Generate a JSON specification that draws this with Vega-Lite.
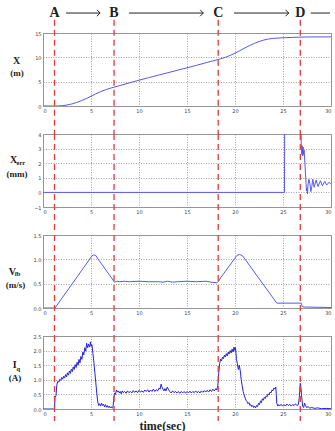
{
"$schema": "https://vega.github.io/schema/vega-lite/v6.json",
"padding": {"left": 5, "top": 5, "right": 0, "bottom": 0},
"spacing": 28,
"bounds": "flush",
"datasets": {
"events": [{"t": 1.2, "label": "A"}, {"t": 7.4, "label": "B"}, {"t": 18.25, "label": "C"}, {"t": 26.8, "label": "D"}],
"arrows": [{"x1": 2.4, "x2": 5.95, "head": true}, {"x1": 8.95, "x2": 16.7, "head": true}, {"x1": 19.9, "x2": 25.6, "head": true}, {"x1": 27.9, "x2": 29.9, "head": false}],
"pos": [{"t":0,"v":0},{"t":1.2,"v":0},{"t":1.6,"v":0.01},{"t":2,"v":0.06},{"t":2.5,"v":0.2},{"t":3,"v":0.42},{"t":3.5,"v":0.72},{"t":4,"v":1.1},{"t":4.5,"v":1.52},{"t":5,"v":2.0},{"t":5.5,"v":2.5},{"t":6,"v":2.95},{"t":6.5,"v":3.33},{"t":7,"v":3.65},{"t":7.5,"v":3.92},{"t":8,"v":4.2},{"t":9,"v":4.75},{"t":10,"v":5.3},{"t":11,"v":5.82},{"t":12,"v":6.33},{"t":13,"v":6.84},{"t":14,"v":7.35},{"t":15,"v":7.85},{"t":16,"v":8.37},{"t":17,"v":8.9},{"t":18,"v":9.42},{"t":18.5,"v":9.7},{"t":19,"v":10.0},{"t":19.5,"v":10.4},{"t":20,"v":10.85},{"t":20.5,"v":11.37},{"t":21,"v":11.9},{"t":21.5,"v":12.4},{"t":22,"v":12.85},{"t":22.5,"v":13.25},{"t":23,"v":13.55},{"t":23.5,"v":13.77},{"t":24,"v":13.9},{"t":24.5,"v":13.97},{"t":25,"v":14.02},{"t":26,"v":14.1},{"t":26.8,"v":14.15},{"t":27.5,"v":14.18},{"t":30,"v":14.2}],
"xerr": [{"t":0,"v":0},{"t":25.15,"v":0},{"t":25.2,"v":8},{"t":26.85,"v":8},{"t":26.9,"v":3.3},{"t":26.95,"v":2.6},{"t":27.0,"v":3.2},{"t":27.05,"v":2.5},{"t":27.1,"v":3.1},{"t":27.15,"v":2.6},{"t":27.2,"v":2.9},{"t":27.3,"v":1.8},{"t":27.4,"v":0.6},{"t":27.45,"v":0.1},{"t":27.5,"v":0.3},{"t":27.55,"v":-0.1},{"t":27.6,"v":0.5},{"t":27.7,"v":0.9},{"t":27.8,"v":0.6},{"t":27.9,"v":0.05},{"t":28.0,"v":0.4},{"t":28.1,"v":0.9},{"t":28.25,"v":0.35},{"t":28.45,"v":0.85},{"t":28.65,"v":0.4},{"t":28.9,"v":0.8},{"t":29.1,"v":0.45},{"t":29.35,"v":0.75},{"t":29.55,"v":0.5},{"t":29.8,"v":0.7},{"t":30,"v":0.55}],
"vfb": [{"t":0,"v":0},{"t":1.25,"v":0},{"t":5.1,"v":1.07},{"t":5.25,"v":1.09},{"t":5.5,"v":1.08},{"t":5.65,"v":1.03},{"t":7.45,"v":0.53},{"t":7.7,"v":0.55},{"t":8,"v":0.54},{"t":8.5,"v":0.55},{"t":9,"v":0.54},{"t":10,"v":0.55},{"t":11,"v":0.54},{"t":12,"v":0.54},{"t":12.5,"v":0.53},{"t":13,"v":0.55},{"t":13.5,"v":0.53},{"t":14,"v":0.54},{"t":15,"v":0.55},{"t":16,"v":0.54},{"t":17,"v":0.55},{"t":17.5,"v":0.53},{"t":18.1,"v":0.52},{"t":18.3,"v":0.55},{"t":18.5,"v":0.62},{"t":20.2,"v":1.08},{"t":20.5,"v":1.1},{"t":20.8,"v":1.07},{"t":24.35,"v":0.1},{"t":26.9,"v":0.1},{"t":27.0,"v":0.03},{"t":27.2,"v":0.02},{"t":30,"v":0.01}],
"iq": [{"t":0,"v":0},{"t":1.1,"v":0},{"t":1.2,"v":0.02},{"t":1.25,"v":0.4},{"t":1.35,"v":0.45},{"t":1.45,"v":0.85},{"t":1.55,"v":0.95},{"t":1.65,"v":0.92},{"t":1.75,"v":1.02},{"t":1.85,"v":0.98},{"t":1.95,"v":1.08},{"t":2.05,"v":1.02},{"t":2.15,"v":1.12},{"t":2.25,"v":1.06},{"t":2.35,"v":1.18},{"t":2.45,"v":1.1},{"t":2.55,"v":1.24},{"t":2.65,"v":1.16},{"t":2.75,"v":1.3},{"t":2.85,"v":1.22},{"t":2.95,"v":1.36},{"t":3.05,"v":1.28},{"t":3.15,"v":1.44},{"t":3.25,"v":1.35},{"t":3.35,"v":1.52},{"t":3.45,"v":1.42},{"t":3.55,"v":1.6},{"t":3.65,"v":1.5},{"t":3.75,"v":1.7},{"t":3.85,"v":1.58},{"t":3.95,"v":1.8},{"t":4.05,"v":1.7},{"t":4.15,"v":1.95},{"t":4.25,"v":1.85},{"t":4.35,"v":2.1},{"t":4.45,"v":1.98},{"t":4.55,"v":2.25},{"t":4.65,"v":2.1},{"t":4.75,"v":2.22},{"t":4.85,"v":2.12},{"t":4.95,"v":2.3},{"t":5.0,"v":2.15},{"t":5.1,"v":2.2},{"t":5.2,"v":1.9},{"t":5.3,"v":1.6},{"t":5.4,"v":1.25},{"t":5.5,"v":0.9},{"t":5.6,"v":0.55},{"t":5.7,"v":0.25},{"t":5.8,"v":0.12},{"t":5.9,"v":0.18},{"t":6.0,"v":0.1},{"t":6.1,"v":0.2},{"t":6.2,"v":0.12},{"t":6.3,"v":0.16},{"t":6.4,"v":0.08},{"t":6.5,"v":0.15},{"t":6.6,"v":0.06},{"t":6.7,"v":0.12},{"t":6.8,"v":0.05},{"t":6.9,"v":0.1},{"t":7.0,"v":0.04},{"t":7.1,"v":0.08},{"t":7.2,"v":0.03},{"t":7.3,"v":0.06},{"t":7.35,"v":0.3},{"t":7.45,"v":0.55},{"t":7.55,"v":0.5},{"t":7.65,"v":0.65},{"t":7.75,"v":0.58},{"t":7.85,"v":0.62},{"t":7.95,"v":0.55},{"t":8.05,"v":0.6},{"t":8.15,"v":0.52},{"t":8.25,"v":0.62},{"t":8.35,"v":0.56},{"t":8.5,"v":0.6},{"t":8.65,"v":0.54},{"t":8.8,"v":0.62},{"t":8.95,"v":0.56},{"t":9.1,"v":0.6},{"t":9.25,"v":0.55},{"t":9.4,"v":0.63},{"t":9.55,"v":0.57},{"t":9.7,"v":0.62},{"t":9.85,"v":0.56},{"t":10.0,"v":0.64},{"t":10.15,"v":0.58},{"t":10.3,"v":0.62},{"t":10.45,"v":0.57},{"t":10.6,"v":0.65},{"t":10.75,"v":0.6},{"t":10.9,"v":0.66},{"t":11.05,"v":0.58},{"t":11.2,"v":0.65},{"t":11.35,"v":0.6},{"t":11.5,"v":0.68},{"t":11.65,"v":0.6},{"t":11.8,"v":0.66},{"t":11.95,"v":0.62},{"t":12.1,"v":0.72},{"t":12.2,"v":0.68},{"t":12.3,"v":0.85},{"t":12.4,"v":0.75},{"t":12.5,"v":0.68},{"t":12.6,"v":0.62},{"t":12.7,"v":0.7},{"t":12.8,"v":0.62},{"t":12.95,"v":0.75},{"t":13.05,"v":0.68},{"t":13.2,"v":0.6},{"t":13.35,"v":0.55},{"t":13.5,"v":0.62},{"t":13.65,"v":0.56},{"t":13.8,"v":0.6},{"t":13.95,"v":0.55},{"t":14.1,"v":0.6},{"t":14.25,"v":0.54},{"t":14.4,"v":0.6},{"t":14.55,"v":0.55},{"t":14.7,"v":0.6},{"t":14.85,"v":0.54},{"t":15.0,"v":0.6},{"t":15.15,"v":0.55},{"t":15.3,"v":0.61},{"t":15.45,"v":0.55},{"t":15.6,"v":0.6},{"t":15.75,"v":0.56},{"t":15.9,"v":0.62},{"t":16.05,"v":0.56},{"t":16.2,"v":0.6},{"t":16.35,"v":0.55},{"t":16.5,"v":0.62},{"t":16.65,"v":0.57},{"t":16.8,"v":0.63},{"t":16.95,"v":0.58},{"t":17.1,"v":0.64},{"t":17.25,"v":0.58},{"t":17.4,"v":0.66},{"t":17.55,"v":0.6},{"t":17.7,"v":0.68},{"t":17.85,"v":0.62},{"t":18.0,"v":0.7},{"t":18.1,"v":0.65},{"t":18.2,"v":0.78},{"t":18.25,"v":0.95},{"t":18.3,"v":1.2},{"t":18.4,"v":1.55},{"t":18.5,"v":1.7},{"t":18.6,"v":1.65},{"t":18.7,"v":1.78},{"t":18.8,"v":1.72},{"t":18.9,"v":1.85},{"t":19.0,"v":1.78},{"t":19.1,"v":1.9},{"t":19.2,"v":1.82},{"t":19.3,"v":1.95},{"t":19.4,"v":1.88},{"t":19.5,"v":2.0},{"t":19.6,"v":1.92},{"t":19.7,"v":2.05},{"t":19.8,"v":1.95},{"t":19.9,"v":2.12},{"t":20.0,"v":2.0},{"t":20.05,"v":2.1},{"t":20.15,"v":1.7},{"t":20.25,"v":1.55},{"t":20.35,"v":1.35},{"t":20.45,"v":1.5},{"t":20.55,"v":1.3},{"t":20.65,"v":1.0},{"t":20.75,"v":0.8},{"t":20.85,"v":0.6},{"t":20.95,"v":0.48},{"t":21.05,"v":0.38},{"t":21.15,"v":0.3},{"t":21.25,"v":0.25},{"t":21.35,"v":0.18},{"t":21.45,"v":0.22},{"t":21.55,"v":0.12},{"t":21.65,"v":0.15},{"t":21.75,"v":0.08},{"t":21.85,"v":0.12},{"t":21.95,"v":0.05},{"t":22.05,"v":0.1},{"t":22.15,"v":0.04},{"t":22.25,"v":0.12},{"t":22.35,"v":0.08},{"t":22.45,"v":0.2},{"t":22.55,"v":0.15},{"t":22.65,"v":0.28},{"t":22.75,"v":0.22},{"t":22.85,"v":0.35},{"t":22.95,"v":0.3},{"t":23.05,"v":0.4},{"t":23.15,"v":0.36},{"t":23.25,"v":0.45},{"t":23.35,"v":0.42},{"t":23.45,"v":0.52},{"t":23.55,"v":0.48},{"t":23.65,"v":0.58},{"t":23.75,"v":0.55},{"t":23.85,"v":0.65},{"t":23.95,"v":0.62},{"t":24.05,"v":0.72},{"t":24.15,"v":0.68},{"t":24.25,"v":0.75},{"t":24.3,"v":0.5},{"t":24.35,"v":0.2},{"t":24.45,"v":0.1},{"t":24.55,"v":0.15},{"t":24.65,"v":0.1},{"t":24.8,"v":0.16},{"t":24.95,"v":0.1},{"t":25.1,"v":0.15},{"t":25.25,"v":0.1},{"t":25.4,"v":0.17},{"t":25.55,"v":0.12},{"t":25.7,"v":0.16},{"t":25.85,"v":0.1},{"t":26.0,"v":0.15},{"t":26.15,"v":0.12},{"t":26.3,"v":0.18},{"t":26.45,"v":0.12},{"t":26.6,"v":0.15},{"t":26.7,"v":0.4},{"t":26.8,"v":0.88},{"t":26.85,"v":0.8},{"t":26.95,"v":0.4},{"t":27.05,"v":0.1},{"t":27.15,"v":0.05},{"t":27.25,"v":0.2},{"t":27.35,"v":0.12},{"t":27.45,"v":0.05},{"t":27.6,"v":0.08},{"t":27.8,"v":0.03},{"t":28.0,"v":0.05},{"t":28.3,"v":0.02},{"t":28.6,"v":0.04},{"t":29.0,"v":0.01},{"t":29.5,"v":0.02},{"t":30,"v":0.01}]
},
"vconcat": [
{
"width": 288, "height": 73,
"layer": [
{"data": {"name": "pos"}, "mark": {"type": "line", "color": "#5858ee", "strokeWidth": 1, "clip": true},
 "encoding": {"x": {"field": "t", "type": "quantitative", "scale": {"domain": [0, 30], "nice": false, "zero": false}, "axis": {"values": [0,5,10,15,20,25,30], "title": null, "grid": true}},
  "y": {"field": "v", "type": "quantitative", "scale": {"domain": [0, 15], "nice": false, "zero": false}, "axis": {"values": [0,5,10,15], "title": null, "grid": true}}}},
{"data": {"name": "events"}, "mark": {"type": "rule", "color": "#e23a3a", "strokeDash": [6, 4], "strokeWidth": 1.3},
 "encoding": {"x": {"field": "t", "type": "quantitative", "scale": {"domain": [0, 30], "nice": false, "zero": false}}, "y": {"datum": 17.7, "type": "quantitative", "scale": {"domain": [0, 15], "nice": false, "zero": false}, "axis": {"values": [0,5,10,15], "title": null, "grid": true}}, "y2": {"datum": -5.75}}},
{"data": {"name": "events"}, "mark": {"type": "text", "font": "Liberation Serif", "fontWeight": "bold", "fontSize": 14, "baseline": "middle"},
 "encoding": {"x": {"field": "t", "type": "quantitative", "scale": {"domain": [0, 30], "nice": false, "zero": false}}, "y": {"datum": 19.1, "type": "quantitative", "scale": {"domain": [0, 15], "nice": false, "zero": false}, "axis": {"values": [0,5,10,15], "title": null, "grid": true}}, "text": {"field": "label"}}},
{"data": {"name": "arrows"}, "mark": {"type": "rule", "color": "#222", "strokeWidth": 1},
 "encoding": {"x": {"field": "x1", "type": "quantitative", "scale": {"domain": [0, 30], "nice": false, "zero": false}}, "x2": {"field": "x2"}, "y": {"datum": 19.1, "type": "quantitative", "scale": {"domain": [0, 15], "nice": false, "zero": false}, "axis": {"values": [0,5,10,15], "title": null, "grid": true}}}},
{"data": {"name": "arrows"}, "transform": [{"filter": "datum.head"}], "mark": {"type": "point", "shape": "M -1 -1 L 0 0 L -1 1", "filled": false, "stroke": "#222", "strokeWidth": 1, "size": 40, "opacity": 1},
 "encoding": {"x": {"field": "x2", "type": "quantitative", "scale": {"domain": [0, 30], "nice": false, "zero": false}}, "y": {"datum": 19.1, "type": "quantitative", "scale": {"domain": [0, 15], "nice": false, "zero": false}, "axis": {"values": [0,5,10,15], "title": null, "grid": true}}}},
{"data": {"values": [{"s": "X"}]}, "mark": {"type": "text", "font": "Liberation Serif", "fontWeight": "bold", "fontSize": 10, "baseline": "middle"},
 "encoding": {"x": {"datum": -2.76, "type": "quantitative", "scale": {"domain": [0, 30], "nice": false, "zero": false}, "axis": {"values": [0,5,10,15,20,25,30], "title": null, "grid": true}}, "y": {"datum": 9.2, "type": "quantitative", "scale": {"domain": [0, 15], "nice": false, "zero": false}, "axis": {"values": [0,5,10,15], "title": null, "grid": true}}, "text": {"field": "s"}}},
{"data": {"values": [{"s": "(m)"}]}, "mark": {"type": "text", "font": "Liberation Serif", "fontWeight": "bold", "fontSize": 9, "baseline": "middle"},
 "encoding": {"x": {"datum": -2.71, "type": "quantitative", "scale": {"domain": [0, 30], "nice": false, "zero": false}, "axis": {"values": [0,5,10,15,20,25,30], "title": null, "grid": true}}, "y": {"datum": 6.8, "type": "quantitative", "scale": {"domain": [0, 15], "nice": false, "zero": false}, "axis": {"values": [0,5,10,15], "title": null, "grid": true}}, "text": {"field": "s"}}}
]
},
{
"width": 288, "height": 73,
"layer": [
{"data": {"name": "xerr"}, "mark": {"type": "line", "color": "#5858ee", "strokeWidth": 1, "clip": true},
 "encoding": {"x": {"field": "t", "type": "quantitative", "scale": {"domain": [0, 30], "nice": false, "zero": false}, "axis": {"values": [0,5,10,15,20,25,30], "title": null, "grid": true}},
  "y": {"field": "v", "type": "quantitative", "scale": {"domain": [-1, 4], "nice": false, "zero": false}, "axis": {"values": [-1,0,1,2,3,4], "title": null, "grid": true}}}},
{"data": {"name": "events"}, "mark": {"type": "rule", "color": "#e23a3a", "strokeDash": [6, 4], "strokeWidth": 1.3},
 "encoding": {"x": {"field": "t", "type": "quantitative", "scale": {"domain": [0, 30], "nice": false, "zero": false}}, "y": {"datum": 4, "type": "quantitative", "scale": {"domain": [-1, 4], "nice": false, "zero": false}, "axis": {"values": [-1,0,1,2,3,4], "title": null, "grid": true}}, "y2": {"datum": -2.85}}},
{"data": {"values": [{"s": "X"}]}, "mark": {"type": "text", "font": "Liberation Serif", "fontWeight": "bold", "fontSize": 10, "baseline": "middle"},
 "encoding": {"x": {"datum": -3.05, "type": "quantitative", "scale": {"domain": [0, 30], "nice": false, "zero": false}, "axis": {"values": [0,5,10,15,20,25,30], "title": null, "grid": true}}, "y": {"datum": 2.22, "type": "quantitative", "scale": {"domain": [-1, 4], "nice": false, "zero": false}, "axis": {"values": [-1,0,1,2,3,4], "title": null, "grid": true}}, "text": {"field": "s"}}},
{"data": {"values": [{"s": "err"}]}, "mark": {"type": "text", "font": "Liberation Serif", "fontWeight": "bold", "fontSize": 6.5, "baseline": "middle", "align": "left"},
 "encoding": {"x": {"datum": -2.75, "type": "quantitative", "scale": {"domain": [0, 30], "nice": false, "zero": false}, "axis": {"values": [0,5,10,15,20,25,30], "title": null, "grid": true}}, "y": {"datum": 2.02, "type": "quantitative", "scale": {"domain": [-1, 4], "nice": false, "zero": false}, "axis": {"values": [-1,0,1,2,3,4], "title": null, "grid": true}}, "text": {"field": "s"}}},
{"data": {"values": [{"s": "(mm)"}]}, "mark": {"type": "text", "font": "Liberation Serif", "fontWeight": "bold", "fontSize": 9, "baseline": "middle"},
 "encoding": {"x": {"datum": -2.71, "type": "quantitative", "scale": {"domain": [0, 30], "nice": false, "zero": false}, "axis": {"values": [0,5,10,15,20,25,30], "title": null, "grid": true}}, "y": {"datum": 1.28, "type": "quantitative", "scale": {"domain": [-1, 4], "nice": false, "zero": false}, "axis": {"values": [-1,0,1,2,3,4], "title": null, "grid": true}}, "text": {"field": "s"}}}
]
},
{
"width": 288, "height": 73,
"layer": [
{"data": {"name": "vfb"}, "mark": {"type": "line", "color": "#5858ee", "strokeWidth": 1, "clip": true},
 "encoding": {"x": {"field": "t", "type": "quantitative", "scale": {"domain": [0, 30], "nice": false, "zero": false}, "axis": {"values": [0,5,10,15,20,25,30], "title": null, "grid": true}},
  "y": {"field": "v", "type": "quantitative", "scale": {"domain": [0, 1.5], "nice": false, "zero": false}, "axis": {"values": [0,0.5,1,1.5], "title": null, "grid": true}}}},
{"data": {"name": "events"}, "mark": {"type": "rule", "color": "#e23a3a", "strokeDash": [6, 4], "strokeWidth": 1.3},
 "encoding": {"x": {"field": "t", "type": "quantitative", "scale": {"domain": [0, 30], "nice": false, "zero": false}}, "y": {"datum": 1.5, "type": "quantitative", "scale": {"domain": [0, 1.5], "nice": false, "zero": false}, "axis": {"values": [0,0.5,1,1.5], "title": null, "grid": true}}, "y2": {"datum": -0.575}}},
{"data": {"values": [{"s": "V"}]}, "mark": {"type": "text", "font": "Liberation Serif", "fontWeight": "bold", "fontSize": 10, "baseline": "middle"},
 "encoding": {"x": {"datum": -3.2, "type": "quantitative", "scale": {"domain": [0, 30], "nice": false, "zero": false}, "axis": {"values": [0,5,10,15,20,25,30], "title": null, "grid": true}}, "y": {"datum": 0.75, "type": "quantitative", "scale": {"domain": [0, 1.5], "nice": false, "zero": false}, "axis": {"values": [0,0.5,1,1.5], "title": null, "grid": true}}, "text": {"field": "s"}}},
{"data": {"values": [{"s": "fb"}]}, "mark": {"type": "text", "font": "Liberation Serif", "fontWeight": "bold", "fontSize": 6.5, "baseline": "middle", "align": "left"},
 "encoding": {"x": {"datum": -2.95, "type": "quantitative", "scale": {"domain": [0, 30], "nice": false, "zero": false}, "axis": {"values": [0,5,10,15,20,25,30], "title": null, "grid": true}}, "y": {"datum": 0.7, "type": "quantitative", "scale": {"domain": [0, 1.5], "nice": false, "zero": false}, "axis": {"values": [0,0.5,1,1.5], "title": null, "grid": true}}, "text": {"field": "s"}}},
{"data": {"values": [{"s": "(m/s)"}]}, "mark": {"type": "text", "font": "Liberation Serif", "fontWeight": "bold", "fontSize": 9, "baseline": "middle"},
 "encoding": {"x": {"datum": -2.86, "type": "quantitative", "scale": {"domain": [0, 30], "nice": false, "zero": false}, "axis": {"values": [0,5,10,15,20,25,30], "title": null, "grid": true}}, "y": {"datum": 0.48, "type": "quantitative", "scale": {"domain": [0, 1.5], "nice": false, "zero": false}, "axis": {"values": [0,0.5,1,1.5], "title": null, "grid": true}}, "text": {"field": "s"}}}
]
},
{
"width": 288, "height": 73,
"layer": [
{"data": {"name": "iq"}, "mark": {"type": "line", "color": "#2222dd", "strokeWidth": 1, "clip": true},
 "encoding": {"x": {"field": "t", "type": "quantitative", "scale": {"domain": [0, 30], "nice": false, "zero": false}, "axis": {"values": [0,5,10,15,20,25,30], "grid": true, "title": "time(sec)", "titleFont": "Liberation Serif", "titleFontWeight": "bold", "titleFontSize": 12, "titleColor": "#222", "titleX": 119, "titlePadding": 4}},
  "y": {"field": "v", "type": "quantitative", "scale": {"domain": [0, 2.5], "nice": false, "zero": false}, "axis": {"values": [0,0.5,1,1.5,2,2.5], "title": null, "grid": true}}}},
{"data": {"name": "events"}, "mark": {"type": "rule", "color": "#e23a3a", "strokeDash": [6, 4], "strokeWidth": 1.3},
 "encoding": {"x": {"field": "t", "type": "quantitative", "scale": {"domain": [0, 30], "nice": false, "zero": false}}, "y": {"datum": 2.5, "type": "quantitative", "scale": {"domain": [0, 2.5], "nice": false, "zero": false}, "axis": {"values": [0,0.5,1,1.5,2,2.5], "title": null, "grid": true}}, "y2": {"datum": -0.41}}},
{"data": {"values": [{"s": "I"}]}, "mark": {"type": "text", "font": "Liberation Serif", "fontWeight": "bold", "fontSize": 10, "baseline": "middle"},
 "encoding": {"x": {"datum": -2.95, "type": "quantitative", "scale": {"domain": [0, 30], "nice": false, "zero": false}, "axis": {"values": [0,5,10,15,20,25,30], "title": "time(sec)"}}, "y": {"datum": 1.5, "type": "quantitative", "scale": {"domain": [0, 2.5], "nice": false, "zero": false}, "axis": {"values": [0,0.5,1,1.5,2,2.5], "title": null, "grid": true}}, "text": {"field": "s"}}},
{"data": {"values": [{"s": "q"}]}, "mark": {"type": "text", "font": "Liberation Serif", "fontWeight": "bold", "fontSize": 6.5, "baseline": "middle", "align": "left"},
 "encoding": {"x": {"datum": -2.75, "type": "quantitative", "scale": {"domain": [0, 30], "nice": false, "zero": false}, "axis": {"values": [0,5,10,15,20,25,30], "title": "time(sec)"}}, "y": {"datum": 1.38, "type": "quantitative", "scale": {"domain": [0, 2.5], "nice": false, "zero": false}, "axis": {"values": [0,0.5,1,1.5,2,2.5], "title": null, "grid": true}}, "text": {"field": "s"}}},
{"data": {"values": [{"s": "(A)"}]}, "mark": {"type": "text", "font": "Liberation Serif", "fontWeight": "bold", "fontSize": 9, "baseline": "middle"},
 "encoding": {"x": {"datum": -2.92, "type": "quantitative", "scale": {"domain": [0, 30], "nice": false, "zero": false}, "axis": {"values": [0,5,10,15,20,25,30], "title": "time(sec)"}}, "y": {"datum": 1.07, "type": "quantitative", "scale": {"domain": [0, 2.5], "nice": false, "zero": false}, "axis": {"values": [0,0.5,1,1.5,2,2.5], "title": null, "grid": true}}, "text": {"field": "s"}}}
]
}
],
"config": {
 "view": {"stroke": "#9a9a9a", "strokeWidth": 1},
 "axis": {"domain": false, "ticks": false, "labelFont": "DejaVu Sans", "labelFontSize": 5, "labelColor": "#444", "labelPadding": 2, "gridColor": "#8c8c8c", "gridDash": [1, 1.5], "gridWidth": 0.8, "labelOverlap": false},
 "text": {"color": "#222"}
}
}
